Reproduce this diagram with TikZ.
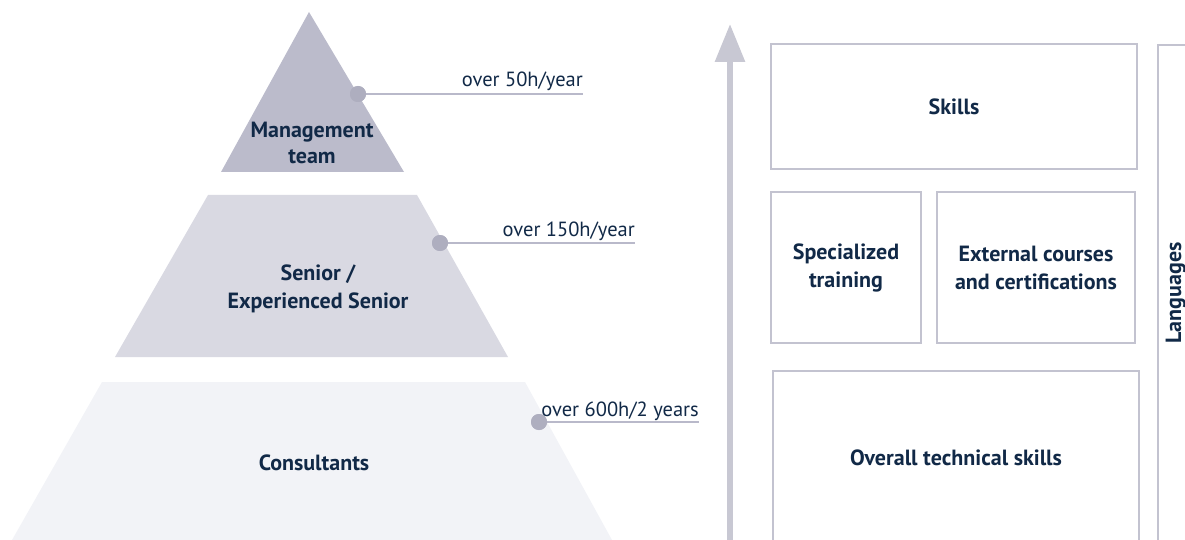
\documentclass[tikz,border=0pt]{standalone}
\usepackage{fontspec}
\setmainfont{PT Sans}
\usetikzlibrary{arrows.meta}
\definecolor{navy}{HTML}{112947}
\definecolor{lvA}{HTML}{BBBBCB}
\definecolor{lvB}{HTML}{D9D9E2}
\definecolor{lvC}{HTML}{F2F3F7}
\definecolor{dotc}{HTML}{AEAEBF}
\definecolor{linec}{HTML}{B9B9CA}
\definecolor{boxc}{HTML}{C3C3D0}
\definecolor{arrc}{HTML}{C8C8D3}
\begin{document}
\begin{tikzpicture}[x=1pt,y=-1pt,
  lvtext/.style={font=\bfseries\fontsize{22}{26}\selectfont, text=navy, align=center, inner sep=0pt},
  hours/.style={font=\fontsize{20.5}{22}\selectfont, text=navy, anchor=base east, inner sep=0pt},
  dot/.style={circle, fill=dotc, minimum size=16pt, inner sep=0pt},
  leader/.style={draw=linec, line width=1.2pt},
  skillbox/.style={draw=boxc, line width=1.5pt, fill=white, font=\bfseries\fontsize{22}{28}\selectfont, text=navy, align=center, inner sep=0pt},
  langtext/.style={font=\bfseries\fontsize{22}{28}\selectfont, text=navy, inner sep=0pt, rotate=90, anchor=base},
]
\useasboundingbox (0,0) rectangle (1185,540);
% pyramid levels
\fill[lvA] (309,12) -- (404,172) -- (221,172) -- cycle;
\fill[lvB] (208,195) -- (417,195) -- (508,357) -- (115,357) -- cycle;
\fill[lvC] (102,382) -- (525,382) -- (612,540) -- (12,540) -- cycle;
\node[lvtext] (mgmt) at (312,143) {Management\\team};
\node[lvtext, font=\bfseries\fontsize{22}{28}\selectfont] (senior) at (318,289) {Senior /\\Experienced Senior};
\node[lvtext] (cons) at (314,463) {Consultants};
% hour markers
\coordinate (e1) at (583,94);
\coordinate (e2) at (635,243);
\coordinate (e3) at (699,422);
\node[dot] (d1) at (358,94) {};
\node[dot] (d2) at (440,243) {};
\node[dot] (d3) at (539,422) {};
\draw[leader] (d1.center) -- (e1);
\draw[leader] (d2.center) -- (e2);
\draw[leader] (d3.center) -- (e3);
\node[dot] at (d1) {};
\node[dot] at (d2) {};
\node[dot] at (d3) {};
\node[hours] (h1) at (583,87) {over 50h/year};
\node[hours] (h2) at (635,236) {over 150h/year};
\node[hours] (h3) at (699,416) {over 600h/2 years};
% arrow
\coordinate (abot) at (730,545);
\coordinate (atop) at (730,24);
\draw[arrc, line width=6pt, -{Triangle[width=29pt,length=38pt]}] (abot) -- (atop);
% boxes
\node[skillbox, minimum width=366pt, minimum height=125pt] (skills) at (954,106.5) {Skills};
\node[skillbox, minimum width=150pt, minimum height=151pt] (spec) at (846,267.5) {Specialized\\training};
\node[skillbox, minimum width=198pt, minimum height=151pt] (ext) at (1036,267.5) {External courses\\and certifications};
\node[skillbox, minimum width=366pt, minimum height=174pt] (overall) at (956,458) {Overall technical skills};
\node[skillbox, minimum width=50pt, minimum height=500pt] (langbox) at (1183,295) {};
\node[langtext] (lang) at (1181,293) {Languages};
\end{tikzpicture}
\end{document}
